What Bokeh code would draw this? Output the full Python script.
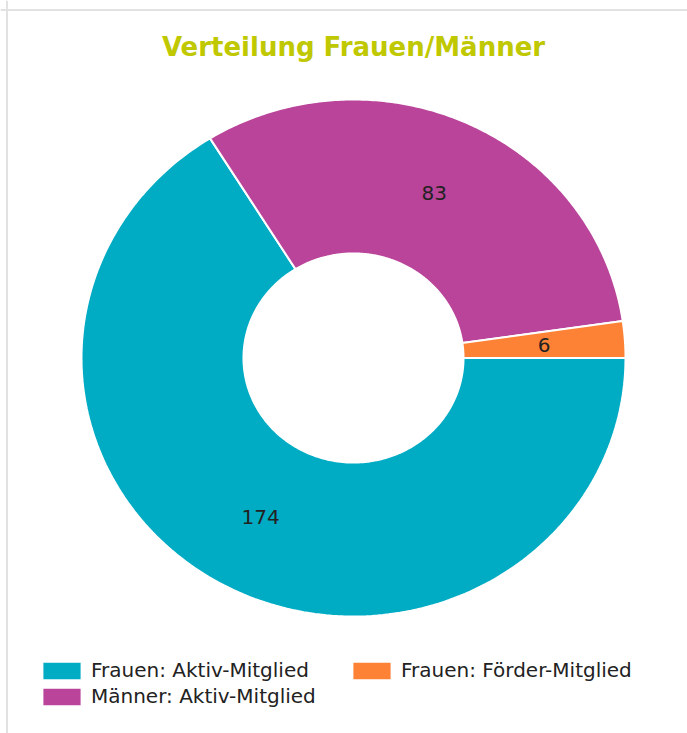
import numpy as np
from bokeh.plotting import figure
from bokeh.models import Range1d, Legend, LegendItem, Span
from bokeh.core.properties import value
from bokeh.embed import file_html
from bokeh.resources import INLINE

# ---- data ----
categories = ["Frauen: Aktiv-Mitglied", "Männer: Aktiv-Mitglied", "Frauen: Förder-Mitglied"]
counts = [174, 83, 6]
colors = ["#00ABC4", "#B9449A", "#FD8235"]
title_text = "Verteilung Frauen/Männer"

# ---- layout (pixels) ----
W, H = 687, 733
CX, CY = 353, 357.5          # donut center in page pixels
RX, RY = 272, 258.5          # outer radii in pixels (x, y)
INNER = 0.4045               # inner radius as a fraction of outer

p = figure(width=W, height=H, output_backend="svg", toolbar_location=None,
           min_border=0, x_axis_type=None, y_axis_type=None,
           x_range=Range1d(-CX / RX, (W - CX) / RX),
           y_range=Range1d(-(H - CY) / RY, CY / RY))
p.grid.visible = False
p.outline_line_color = None
p.background_fill_color = "white"
p.border_fill_color = "white"

# frame border (light grey, top and left)
p.add_layout(Span(location=CY / RY - 9.5 / RY, dimension="width", line_color="#e2e2e2", line_width=2))
p.add_layout(Span(location=-CX / RX + 6.5 / RX, dimension="height", line_color="#e2e2e2", line_width=2))

total = float(sum(counts))
cum = np.concatenate([[0.0], np.cumsum(counts)])
items = []
for i, (cat, v, c) in enumerate(zip(categories, counts, colors)):
    a0 = -2 * np.pi * cum[i] / total
    a1 = -2 * np.pi * cum[i + 1] / total
    t = np.linspace(a0, a1, 200)
    xs = np.concatenate([np.cos(t), INNER * np.cos(t[::-1])])
    ys = np.concatenate([np.sin(t), INNER * np.sin(t[::-1])])
    r = p.patch(xs, ys, fill_color=c, line_color="white", line_width=2)
    items.append(LegendItem(label=cat, renderers=[r]))
    am = (a0 + a1) / 2
    rm = (1 + INNER) / 2
    p.text(x=[rm * np.cos(am)], y=[rm * np.sin(am)], text=[str(v)],
           text_align="center", text_baseline="middle",
           text_font=value("DejaVu Sans"), text_font_size="20px", text_color="#222222")

# title
p.text(x=[0], y=[(CY - 46) / RY], text=[title_text], text_align="center", text_baseline="middle",
       text_font=value("DejaVu Sans"), text_font_style="bold", text_font_size="26px",
       text_color="#BFC800")

legend = Legend(items=items, location=(37, 25), orientation="vertical", nrows=2,
                glyph_width=49, glyph_height=23, label_standoff=5, spacing=2,
                label_width=254, label_height=20,
                label_text_font="DejaVu Sans", label_text_font_size="20px",
                label_text_color="#222222", padding=0, margin=0,
                border_line_color=None, background_fill_alpha=0)
p.add_layout(legend, "center")

open("out.html", "w").write(file_html(p, INLINE))
